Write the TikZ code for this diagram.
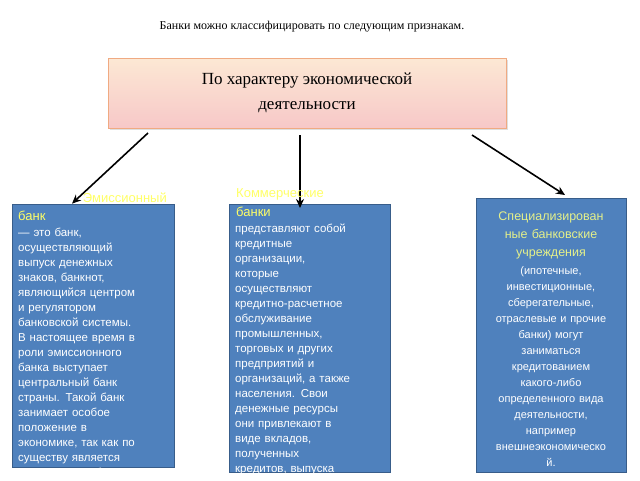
\documentclass[tikz,border=0pt]{standalone}
\usepackage{fontspec}
\setmainfont{Liberation Serif}
\newfontfamily\boxfont{Liberation Sans}
\usetikzlibrary{arrows.meta,shadows}
\definecolor{bfill}{HTML}{4F81BD}
\definecolor{bdraw}{HTML}{385D8A}
\definecolor{ttl}{HTML}{FFFF66}
\definecolor{ttlb}{HTML}{E4F08A}
\newcommand\Jl[1]{\makebox[\linewidth][s]{#1}\\}
\newcommand\Pl[1]{#1\\}
\begin{document}
\begin{tikzpicture}[x=1pt,y=-1pt,
  bluebox/.style={draw=bdraw,fill=bfill,line width=0.8pt},
  body/.style={anchor=north west,inner sep=0pt,text=white,font=\boxfont\fontsize{11.5}{15}\selectfont,text width=150pt,align=left},
  arr/.style={-{Stealth[length=9pt,width=8pt]},line width=1.6pt}]
\useasboundingbox (0,0) rectangle (640,480);
\node (hdr) at (312,27) {\fontsize{12}{14}\selectfont Банки можно классифицировать по следующим признакам.};
\node[draw={rgb,255:red,240;green,170;blue,130},line width=0.8pt,top color={rgb,255:red,252;green,232;blue,212},bottom color={rgb,255:red,247;green,200;blue,200},minimum width=398pt,minimum height=70pt,drop shadow={opacity=0.25},align=center,font=\fontsize{17}{25}\selectfont] (top) at (307,93) {По характеру экономической\\деятельности};
\node[bluebox,minimum width=162pt,minimum height=263pt,inner sep=0pt] (L) at (93,335.5) {};
\node[bluebox,minimum width=161pt,minimum height=268pt,inner sep=0pt] (M) at (309.5,338) {};
\node[bluebox,minimum width=150pt,minimum height=274pt,inner sep=0pt] (R) at (551,335) {};
\coordinate (a1) at (148,133); \coordinate (a2) at (300,135); \coordinate (a3) at (472,135);
\draw[arr] (a1) -- (L.north west -| 72,195);
\draw[arr] (a2) -- (300,208);
\draw[arr] (a3) -- (565,195);
\begin{scope}
\clip (12,185) rectangle (174,467);
\node[anchor=north east,inner sep=0pt,text=ttl,font=\boxfont\fontsize{13}{15}\selectfont] (t1) at (167,193) {Эмиссионный};
\node[anchor=north west,inner sep=0pt,text=ttl,font=\boxfont\fontsize{13}{15}\selectfont] (t1b) at (18,211) {банк};
\node[body] (b1) at (18,228) {\Jl{— это банк,}\Pl{осуществляющий}\Jl{выпуск денежных}\Jl{знаков, банкнот,}\Jl{являющийся центром}\Jl{и регулятором}\Jl{банковской системы.}\Jl{В настоящее время в}\Jl{роли эмиссионного}\Jl{банка выступает}\Jl{центральный банк}\Jl{страны. Такой банк}\Jl{занимает особое}\Jl{положение в}\Jl{экономике, так как по}\Jl{существу является}\Jl{эмиссионным банком}};
\end{scope}
\begin{scope}
\clip (229,185) rectangle (390,472);
\node[anchor=north west,inner sep=0pt,text=ttl,font=\boxfont\fontsize{13}{15}\selectfont] (t2) at (236,188) {Коммерческие};
\node[anchor=north west,inner sep=0pt,text=ttl,font=\boxfont\fontsize{13}{15}\selectfont] (t2b) at (236,207) {банки};
\node[body] (b2) at (235,224) {\Jl{представляют собой}\Pl{кредитные}\Pl{организации,}\Pl{которые}\Pl{осуществляют}\Pl{кредитно-расчетное}\Pl{обслуживание}\Pl{промышленных,}\Jl{торговых и других}\Jl{предприятий и}\Jl{организаций, а также}\Jl{населения. Свои}\Jl{денежные ресурсы}\Jl{они привлекают в}\Jl{виде вкладов,}\Pl{полученных}\Jl{кредитов, выпуска}};
\end{scope}
\node[anchor=north,inner sep=0pt,text=ttlb,font=\boxfont\fontsize{12.5}{18}\selectfont,text width=148pt,align=center] (t3) at (551,212) {Специализирован\\ные банковские\\учреждения};
\node[anchor=north,inner sep=0pt,text=white,font=\boxfont\fontsize{11}{16}\selectfont,text width=148pt,align=center] (b3) at (551,266) {(ипотечные,\\инвестиционные,\\сберегательные,\\отраслевые и прочие\\банки) могут\\заниматься\\кредитованием\\какого-либо\\определенного вида\\деятельности,\\например\\внешнеэкономическо\\й.};
\end{tikzpicture}
\end{document}
